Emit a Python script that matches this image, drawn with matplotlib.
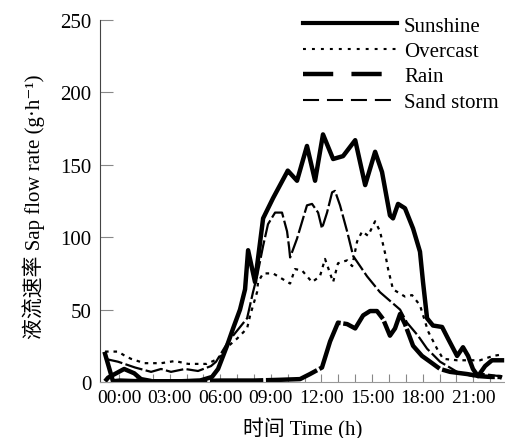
import matplotlib
matplotlib.use('Agg')
import matplotlib.pyplot as plt
from matplotlib.lines import Line2D

plt.rcParams['font.family'] = ['Liberation Serif', 'Noto Sans CJK SC', 'DejaVu Serif']

# time in hours, sap flow rate in g/h
sun_t = [-0.83, -0.36, 0.06, 1.24, 2.43, 3.62, 4.80, 5.51, 5.87, 6.40, 6.76, 7.17, 7.47, 7.65, 8.06,
         8.54, 9.13, 9.96, 10.0, 10.55, 11.14, 11.62, 12.09, 12.69, 13.28, 14.00, 14.59, 15.18, 15.59,
         16.06, 16.24, 16.54, 16.95, 17.43, 17.84, 18.02, 18.26, 18.61, 19.15, 19.50, 20.04, 20.39,
         20.69, 20.98, 21.28, 21.70, 22.11, 22.70]
sun_v = [19.4, 0.5, 1, 0.5, 0.5, 0.5, 1, 3.5, 9, 25, 37, 50, 64, 91, 69,
         113, 127, 145, 146, 139, 163, 139, 171, 154, 156, 167, 136, 159, 145,
         115, 113, 123, 120, 106, 90, 69, 44, 39, 38, 30, 18, 24,
         18, 9, 4, 11, 15, 15]

over_t = [-0.83, -0.06, 0.36, 0.71, 1.5, 2.5, 3.32, 3.5, 4.1, 5.2, 5.87, 6.5, 7.0, 7.59, 7.77, 8.18,
          8.24, 8.54, 9.13, 10.14, 10.43, 10.85, 11.44, 11.91, 12.21, 12.69, 12.98, 13.52, 13.82,
          14.11, 14.41, 14.76, 15.18, 15.47, 15.77, 15.95, 16.24, 16.95, 17.37, 17.84, 18.32, 18.85,
          19.21, 20.04, 21.40, 22.17, 22.70]
over_v = [21, 21, 18, 16, 13, 13, 14.5, 14, 12.5, 12.5, 16, 25, 30, 37, 46, 62,
          69, 75, 75, 68, 78, 77, 69, 73, 85, 69, 82, 84, 80,
          97, 104, 101, 111, 104, 89, 78, 64, 59, 60, 53, 35, 23,
          16, 15, 15, 18, 19]

rain_t = [-0.83, -0.65, 0.3, 0.9, 1.3, 2.0, 4.0, 6.0, 8.0, 9.5, 10.73, 11.32, 12.03, 12.51, 12.98,
          13.52, 14.00, 14.47, 14.88, 15.29, 15.65, 16.06, 16.36, 16.66, 16.95, 17.43, 17.96, 18.44,
          19.03, 19.62, 20.63, 21.40, 21.99, 22.58, 22.70]
rain_v = [0.5, 3, 9, 6, 2, 0.5, 0.5, 1, 1, 1.5, 2, 5.5, 10, 28, 41,
          40, 37, 46, 49, 49, 43.5, 32, 37, 47, 40, 25, 18, 14,
          9, 7, 5.5, 4, 3.5, 3.5, 3]

sand_t = [-0.83, -0.06, 0.95, 1.90, 2.49, 3.08, 3.91, 4.68, 5.45, 5.75, 6.58, 6.76, 7.59, 7.94, 8.18,
          8.54, 8.83, 9.25, 9.66, 9.96, 10.08, 10.14, 10.55, 11.14, 11.44, 11.80, 12.03, 12.33, 12.63,
          12.80, 13.10, 13.52, 13.88, 14.70, 15.47, 16.66, 17.07, 17.72, 18.26, 19.03, 20.04, 20.98,
          21.58, 22.58, 22.70]
sand_v = [16, 14, 10, 7, 9, 7, 9, 7.6, 11, 14, 30, 32, 44, 62, 73,
          94, 109, 117, 117, 104, 93, 86, 99, 122, 123, 117, 106, 117, 131,
          132, 122, 104, 87, 73, 62, 50, 41, 32, 23, 14, 7, 4,
          5.5, 4, 4]

labels = ['Sunshine', 'Overcast', 'Rain', 'Sand storm']
tick_hours = list(range(0, 23))

fig = plt.figure(figsize=(5.05, 4.39), dpi=100)
ax = fig.add_axes([100 / 505, 1 - 383 / 439, 405 / 505, 362 / 439])

ax.plot(sun_t, sun_v, color='black', lw=3.2, solid_joinstyle='round')
ax.plot(over_t, over_v, color='black', lw=1.6, dashes=(1.6, 2.2))
ax.plot(rain_t, rain_v, color='black', lw=3.2, dashes=(12, 0.6), solid_joinstyle='round')
ax.plot(sand_t, sand_v, color='black', lw=1.6, dashes=(8, 1.5))

ax.set_xlim(-1.13, 22.88)
ax.set_ylim(0, 250)
ax.set_yticks([0, 50, 100, 150, 200, 250])
ax.set_xticks(tick_hours)
ax.set_xticklabels(['%02d:00' % h if h % 3 == 0 else '' for h in tick_hours])

for s in ['top', 'right']:
    ax.spines[s].set_visible(False)
ax.spines['left'].set_color('#444444')
ax.spines['bottom'].set_color('#999999')
ax.tick_params(axis='y', direction='in', length=9, width=0.8, color='#888888',
               labelsize=15, pad=6)
ax.tick_params(axis='x', direction='in', length=6, width=0.8, color='#888888',
               labelsize=14, pad=5)

ax.set_ylabel('液流速率 Sap flow rate (g·h⁻¹)', fontsize=15)
ax.yaxis.set_label_coords(-0.137, 0.486)
ax.set_xlabel('时间 Time (h)', fontsize=15, labelpad=8)

handles = [
    Line2D([], [], color='black', lw=3.0),
    Line2D([], [], color='black', lw=1.5, dashes=(1.4, 2.9)),
    Line2D([], [], color='black', lw=3.2, dashes=(6.8, 4.1)),
    Line2D([], [], color='black', lw=1.5, dashes=(7.7, 3.8)),
]
fig.legend(handles, labels, loc='upper left', bbox_to_anchor=(303 / 505, 1 - 17 / 439),
           frameon=False, fontsize=15, handlelength=4.5, handletextpad=0.35,
           labelspacing=0.28, borderpad=0, borderaxespad=0)

fig.savefig('out.png', dpi=100)
